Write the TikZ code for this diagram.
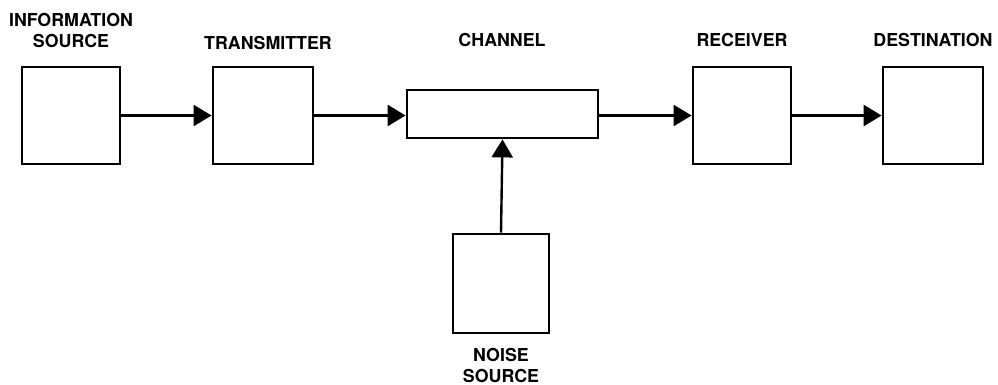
\documentclass[tikz,border=0pt]{standalone}
\usepackage{fontspec}
\setmainfont{TeX Gyre Heros}
\usetikzlibrary{arrows.meta}
\begin{document}
\begin{tikzpicture}[x=1pt,y=-1pt,
  blk/.style={draw,line width=2.8pt,inner sep=0pt},
  lbl/.style={font=\bfseries\fontsize{17.8}{21}\selectfont,align=center,inner sep=0pt},
  conn/.style={line width=2.4pt,-{Triangle[length=18pt,width=21pt]}}]
\useasboundingbox (0,0) rectangle (998,385);
\node[blk,minimum width=98pt,minimum height=97pt] (src) at (71,115.5) {};
\node[blk,minimum width=100pt,minimum height=97pt] (tx) at (263,115.5) {};
\node[blk,minimum width=191pt,minimum height=48pt] (ch) at (502.5,114) {};
\node[blk,minimum width=98pt,minimum height=97pt] (rx) at (742,115.5) {};
\node[blk,minimum width=100pt,minimum height=97pt] (dst) at (933,115.5) {};
\node[blk,minimum width=96pt,minimum height=99pt] (ns) at (501,283.5) {};
\node[lbl] (lsrc) at (71,31) {INFORMATION\\SOURCE};
\node[lbl] (ltx) at (268,43) {TRANSMITTER};
\node[lbl] (lch) at (502,40) {CHANNEL};
\node[lbl] (lrx) at (742,40) {RECEIVER};
\node[lbl] (ldst) at (933,40) {DESTINATION};
\node[lbl] (lns) at (501,366) {NOISE\\SOURCE};
\draw[conn] (src.east) -- (tx.west);
\draw[conn] (tx.east) -- (tx.east -| ch.west);
\draw[conn] (rx.east -| ch.east) -- (rx.west);
\draw[conn] (rx.east) -- (dst.west);
\draw[conn] (ns.north) -- (ch.south);
\end{tikzpicture}
\end{document}
